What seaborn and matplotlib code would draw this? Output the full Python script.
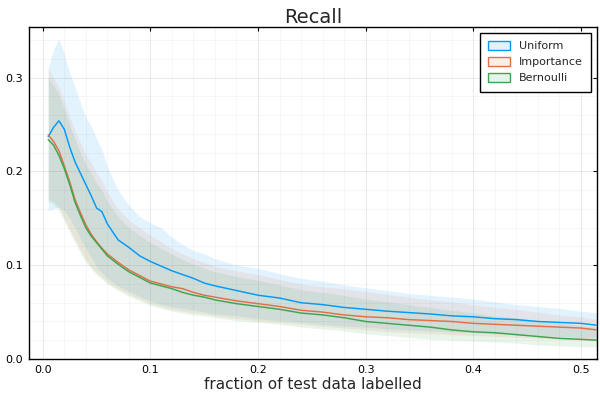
import numpy as np
import pandas as pd
import matplotlib
matplotlib.use("Agg")
import matplotlib.pyplot as plt
import seaborn as sns
from matplotlib.patches import Patch
from matplotlib.ticker import MultipleLocator

# ---- data ----
x = [0.005, 0.01, 0.015, 0.02, 0.025, 0.03, 0.035, 0.04, 0.045, 0.05, 0.055, 0.06,
     0.07, 0.08, 0.09, 0.10, 0.11, 0.12, 0.13, 0.14, 0.15, 0.16, 0.18, 0.20, 0.22,
     0.24, 0.26, 0.28, 0.30, 0.32, 0.34, 0.36, 0.38, 0.40, 0.42, 0.44, 0.46, 0.48,
     0.50, 0.515]

uniform_mean = [0.237, 0.247, 0.254, 0.245, 0.226, 0.210, 0.198, 0.186, 0.174, 0.161,
                0.157, 0.144, 0.127, 0.119, 0.110, 0.104, 0.099, 0.094, 0.090, 0.086,
                0.081, 0.078, 0.073, 0.068, 0.065, 0.060, 0.058, 0.055, 0.053, 0.051,
                0.0495, 0.048, 0.046, 0.045, 0.043, 0.042, 0.040, 0.039, 0.038, 0.036]
uniform_hi = [0.310, 0.330, 0.342, 0.325, 0.305, 0.290, 0.273, 0.258, 0.248, 0.235,
              0.223, 0.205, 0.180, 0.164, 0.152, 0.145, 0.140, 0.130, 0.122, 0.116,
              0.112, 0.107, 0.100, 0.097, 0.091, 0.086, 0.083, 0.079, 0.076, 0.073,
              0.070, 0.068, 0.066, 0.064, 0.061, 0.058, 0.056, 0.054, 0.051, 0.049]
uniform_lo = [0.158, 0.160, 0.162, 0.158, 0.150, 0.140, 0.128, 0.118, 0.108, 0.098,
              0.092, 0.086, 0.078, 0.072, 0.067, 0.062, 0.058, 0.056, 0.054, 0.052,
              0.050, 0.048, 0.046, 0.043, 0.041, 0.039, 0.037, 0.035, 0.034, 0.032,
              0.031, 0.030, 0.029, 0.028, 0.027, 0.026, 0.025, 0.024, 0.023, 0.022]

importance_mean = [0.239, 0.232, 0.222, 0.206, 0.189, 0.170, 0.156, 0.143, 0.133, 0.125,
                   0.118, 0.112, 0.103, 0.095, 0.089, 0.083, 0.080, 0.077, 0.075, 0.071,
                   0.068, 0.066, 0.062, 0.059, 0.056, 0.052, 0.050, 0.047, 0.045, 0.044,
                   0.042, 0.041, 0.040, 0.038, 0.037, 0.036, 0.035, 0.034, 0.033, 0.031]
importance_hi = [0.310, 0.300, 0.290, 0.275, 0.258, 0.244, 0.230, 0.218, 0.209, 0.198,
                 0.190, 0.178, 0.160, 0.148, 0.140, 0.132, 0.125, 0.118, 0.112, 0.107,
                 0.103, 0.099, 0.094, 0.090, 0.085, 0.080, 0.077, 0.075, 0.072, 0.069,
                 0.066, 0.063, 0.061, 0.058, 0.055, 0.053, 0.050, 0.047, 0.045, 0.042]
importance_lo = [0.170, 0.168, 0.162, 0.150, 0.138, 0.127, 0.116, 0.106, 0.098, 0.092,
                 0.087, 0.082, 0.075, 0.069, 0.064, 0.059, 0.056, 0.053, 0.051, 0.049,
                 0.048, 0.046, 0.043, 0.041, 0.039, 0.037, 0.035, 0.033, 0.031, 0.029,
                 0.028, 0.027, 0.026, 0.025, 0.024, 0.023, 0.022, 0.021, 0.020, 0.019]

bernoulli_mean = [0.234, 0.228, 0.217, 0.203, 0.186, 0.167, 0.153, 0.140, 0.131, 0.124,
                  0.117, 0.110, 0.101, 0.093, 0.087, 0.081, 0.078, 0.075, 0.071, 0.068,
                  0.066, 0.063, 0.059, 0.056, 0.053, 0.049, 0.047, 0.044, 0.040, 0.038,
                  0.036, 0.034, 0.031, 0.029, 0.028, 0.026, 0.024, 0.022, 0.021, 0.020]
bernoulli_hi = [0.300, 0.292, 0.282, 0.266, 0.250, 0.234, 0.220, 0.208, 0.198, 0.188,
                0.180, 0.168, 0.152, 0.140, 0.132, 0.124, 0.118, 0.112, 0.106, 0.101,
                0.097, 0.093, 0.088, 0.084, 0.079, 0.074, 0.071, 0.068, 0.064, 0.061,
                0.058, 0.055, 0.052, 0.049, 0.046, 0.044, 0.041, 0.038, 0.036, 0.034]
bernoulli_lo = [0.168, 0.165, 0.158, 0.147, 0.135, 0.124, 0.113, 0.103, 0.096, 0.090,
                0.085, 0.080, 0.073, 0.067, 0.062, 0.057, 0.054, 0.051, 0.049, 0.047,
                0.046, 0.044, 0.041, 0.039, 0.037, 0.034, 0.032, 0.030, 0.027, 0.025,
                0.023, 0.021, 0.020, 0.019, 0.018, 0.017, 0.015, 0.014, 0.013, 0.013]

labels = ["Uniform", "Importance", "Bernoulli"]
colors = ["#009AFA", "#E36F47", "#3EA44E"]

# ---- build long-form table ----
means = [uniform_mean, importance_mean, bernoulli_mean]
his = [uniform_hi, importance_hi, bernoulli_hi]
los = [uniform_lo, importance_lo, bernoulli_lo]
frames = []
for lab, m in zip(labels, means):
    frames.append(pd.DataFrame({"x": x, "y": m, "method": lab}))
df = pd.concat(frames, ignore_index=True)

sns.set_style("white")
plt.rcParams["font.family"] = ["DejaVu Sans"]

fig = plt.figure(figsize=(6, 4), dpi=100)
ax = fig.add_axes([0.048, 0.1025, 0.947, 0.83])

for lab, c, lo, hi in zip(labels, colors, los, his):
    ax.fill_between(x, lo, hi, color=c, alpha=0.11, linewidth=0, zorder=1)

sns.lineplot(data=df, x="x", y="y", hue="method", palette=colors,
             hue_order=labels, ax=ax, linewidth=1.05, legend=False, zorder=3)

ax.set_xlim(-0.013, 0.515)
ax.set_ylim(0.0, 0.354)
ax.xaxis.set_major_locator(MultipleLocator(0.1))
ax.yaxis.set_major_locator(MultipleLocator(0.1))
ax.xaxis.set_minor_locator(MultipleLocator(0.02))
ax.yaxis.set_minor_locator(MultipleLocator(0.02))
ax.set_xticks([0.0, 0.1, 0.2, 0.3, 0.4, 0.5])
ax.set_xticklabels(["0.0", "0.1", "0.2", "0.3", "0.4", "0.5"])
ax.set_yticks([0.0, 0.1, 0.2, 0.3])
ax.set_yticklabels(["0.0", "0.1", "0.2", "0.3"])

ax.grid(True, which="major", color="#000000", alpha=0.1, linewidth=0.6)
ax.grid(True, which="minor", color="#000000", alpha=0.05, linewidth=0.5)
ax.set_axisbelow(True)

for s in ax.spines.values():
    s.set_color("black")
    s.set_linewidth(1.0)
ax.tick_params(which="major", direction="in", length=3, width=0.8,
               top=True, right=True, labelsize=8, pad=4, colors="black")
ax.tick_params(which="minor", length=0)

ax.set_xlabel("fraction of test data labelled", fontsize=11, labelpad=2)
ax.set_ylabel("")
ax.set_title("Recall", fontsize=14, pad=3)

handles = [Patch(facecolor=matplotlib.colors.to_rgba(c, 0.12), edgecolor=c, linewidth=1.0, label=l)
           for l, c in zip(labels, colors)]
leg = ax.legend(handles=handles, loc="upper right", fontsize=8, frameon=True,
                fancybox=False, edgecolor="black", framealpha=1.0,
                borderaxespad=0.5, handlelength=2.0, handleheight=0.9,
                labelspacing=0.5, borderpad=0.75)
leg.get_frame().set_linewidth(1.0)

fig.savefig("out.png", dpi=100)
